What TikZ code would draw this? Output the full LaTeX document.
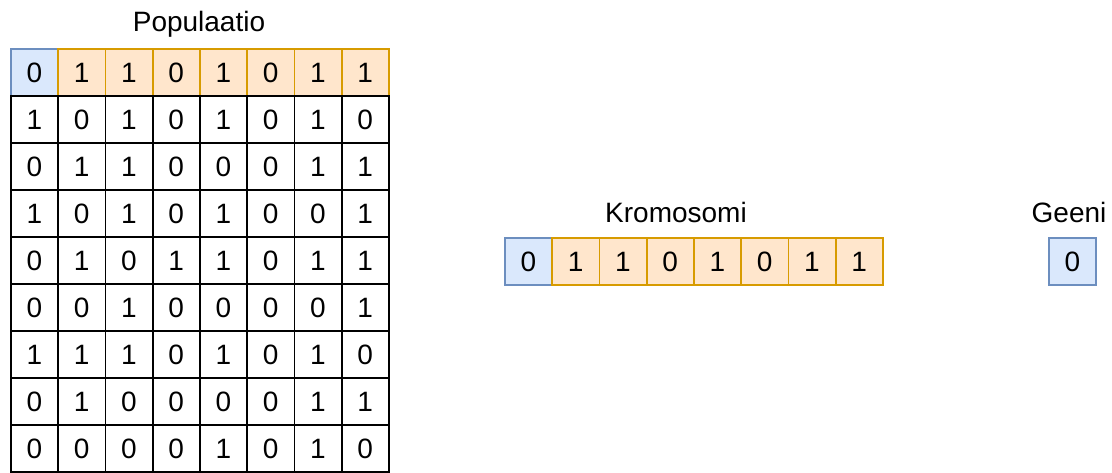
\documentclass[tikz,border=0pt]{standalone}
\usepackage{fontspec}
\setmainfont{Liberation Sans}
\definecolor{genefill}{HTML}{DAE8FC}
\definecolor{geneedge}{HTML}{6C8EBF}
\definecolor{chromfill}{HTML}{FFE6CC}
\definecolor{chromedge}{HTML}{D79B00}
\begin{document}
\begin{tikzpicture}[
        x=1pt, y=-1pt, font=\fontsize{28}{32}\selectfont,
        bit/.style={draw, line width=1.8pt, minimum width=47.25pt, minimum height=47pt, inner sep=0pt, anchor=north west},
        plain/.style={bit, draw=black, fill=white},
        gene/.style={bit, draw=geneedge, fill=genefill},
        chrom/.style={bit, draw=chromedge, fill=chromfill},
        caption/.style={inner sep=0pt, anchor=base}
    ]
        \useasboundingbox (0,0) rectangle (1112,473);

        % Populaatio: first row highlighted, then the other individuals.
        \node[caption] (poptitle) at (199,32) {Populaatio};
        \node[gene] (pop-1-0) at (10,48) {0};
        \foreach \b [count=\c] in {1,1,0,1,0,1,1}
            \node[chrom] (pop-1-\c) at ({10+47.25*\c},48) {\b};
        \foreach \row [count=\r from 2] in {{1,0,1,0,1,0,1,0},{0,1,1,0,0,0,1,1},{1,0,1,0,1,0,0,1},
                {0,1,0,1,1,0,1,1},{0,0,1,0,0,0,0,1},{1,1,1,0,1,0,1,0},{0,1,0,0,0,0,1,1},{0,0,0,0,1,0,1,0}}
            \foreach \b [count=\c from 0] in \row
                \node[plain] (pop-\r-\c) at ({10+47.25*\c},{48+47*(\r-1)}) {\b};

        % Kromosomi.
        \node[caption] (chromtitle) at (676,223) {Kromosomi};
        \node[gene] (chrom-0) at (504,237) {0};
        \foreach \b [count=\c] in {1,1,0,1,0,1,1}
            \node[chrom] (chrom-\c) at ({504+47.25*\c},237) {\b};

        % Geeni.
        \node[caption] (genetitle) at (1069,223) {Geeni};
        \node[gene] (gene) at (1048,237) {0};
    \end{tikzpicture}
\end{document}
